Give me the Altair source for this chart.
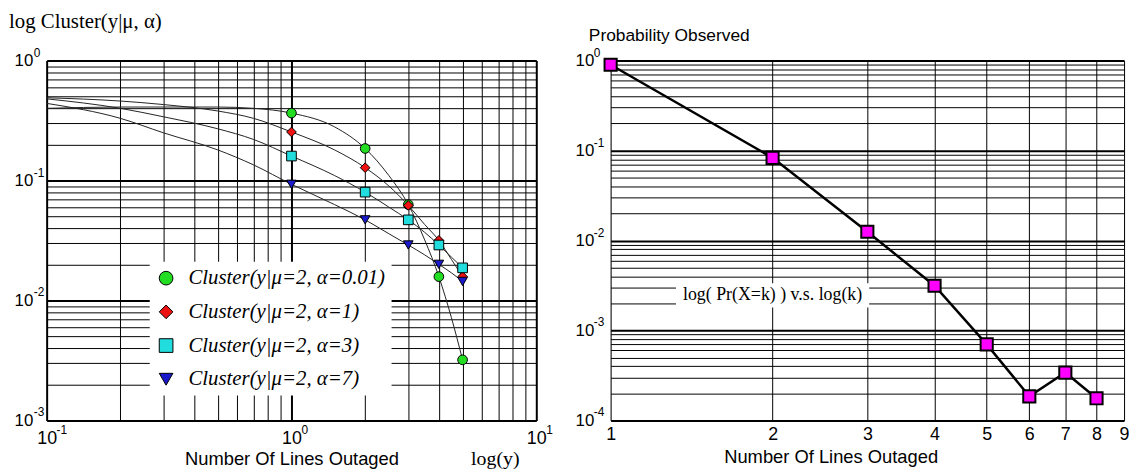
import altair as alt
import pandas as pd

# ---------------- data: left panel (markers at integer y) ----------------
k_left = [1, 2, 3, 4, 5]
series_names = [
    "Cluster(y|μ=2, α=0.01)",
    "Cluster(y|μ=2, α=1)",
    "Cluster(y|μ=2, α=3)",
    "Cluster(y|μ=2, α=7)",
]
p_a001 = [0.365, 0.185, 0.063, 0.0158, 0.0032]
p_a1 = [0.254, 0.128, 0.062, 0.0317, 0.0158]
p_a3 = [0.160, 0.080, 0.047, 0.029, 0.0187]
p_a7 = [0.093, 0.047, 0.029, 0.020, 0.0144]

# continuous model curves
curve_x = [0.1, 0.2, 0.3, 0.5, 0.7, 1, 1.5, 2, 2.5, 3, 3.5, 4, 4.5, 5]
c_a001 = [0.40, 0.41, 0.41, 0.41, 0.40, 0.365, 0.28, 0.185, 0.11, 0.063, 0.032, 0.0158, 0.0072, 0.0032]
c_a1 = [0.49, 0.46, 0.43, 0.38, 0.33, 0.254, 0.18, 0.128, 0.09, 0.062, 0.043, 0.0317, 0.022, 0.0158]
c_a3 = [0.48, 0.40, 0.34, 0.27, 0.22, 0.160, 0.11, 0.080, 0.060, 0.047, 0.037, 0.029, 0.023, 0.0187]
c_a7 = [0.44, 0.33, 0.25, 0.18, 0.135, 0.093, 0.063, 0.047, 0.036, 0.029, 0.024, 0.020, 0.017, 0.0144]

# ---------------- data: right panel ----------------
k_right = [1, 2, 3, 4, 5, 6, 7, 8]
p_observed = [0.9, 0.083, 0.0125, 0.00314, 0.0007, 0.000185, 0.00034, 0.000176]

# decade tick labels (base "10" + exponent)
left_x_decades = [0.1, 1, 10]
left_x_exps = ["-1", "0", "1"]
left_y_decades = [1, 0.1, 0.01, 0.001]
left_y_exps = ["0", "-1", "-2", "-3"]
right_y_decades = [1, 0.1, 0.01, 0.001, 0.0001]
right_y_exps = ["0", "-1", "-2", "-3", "-4"]

# ---------------- tables ----------------
marker_vals = [p_a001, p_a1, p_a3, p_a7]
curve_vals = [c_a001, c_a1, c_a3, c_a7]
left_pts = pd.DataFrame(
    [{"series": s, "x": x, "p": v} for s, vals in zip(series_names, marker_vals) for x, v in zip(k_left, vals)]
)
left_curves = pd.DataFrame(
    [{"series": s, "x": x, "p": v} for s, vals in zip(series_names, curve_vals) for x, v in zip(curve_x, vals)]
)
right_pts = pd.DataFrame({"k": k_right, "p": p_observed})

# ---------------- helpers ----------------
SANS = "Liberation Sans"
SERIF = "Liberation Serif"


def log_grid(lo, hi):
    vals = []
    for d in range(lo, hi):
        for m in range(1, 10):
            vals.append(round(m * 10.0 ** d, 10))
    vals.append(round(10.0 ** hi, 10))
    return vals


DEC_TEST = "abs(log(datum.value)/LN10 - round(log(datum.value)/LN10)) < 0.0001"
DEC_LABEL = f"({DEC_TEST}) ? '10' : ''"
grid_w = {"condition": {"test": DEC_TEST, "value": 2}, "value": 1}

common_axis = dict(
    grid=True, ticks=False, domain=False, gridColor="black", gridOpacity=1,
    labelFont=SANS, labelColor="black",
    labelOverlap=False, labelFlush=False, titleFont=SANS, titleFontSize=18.5,
    titleFontWeight="normal", titleColor="black",
)

# ---------------- left panel ----------------
LW, LH = 494, 363
xl = alt.Scale(type="log", domain=[0.1, 10], nice=False)
yl = alt.Scale(type="log", domain=[0.001, 1], nice=False)

x_axis_l = alt.Axis(values=log_grid(-1, 1), labelExpr=DEC_LABEL, labelFontSize=18, gridWidth=grid_w,
                    labelPadding=9, title="Number Of Lines Outaged", titlePadding=3, **common_axis)
y_axis_l = alt.Axis(values=log_grid(-3, 0), labelExpr=DEC_LABEL, labelFontSize=17, gridWidth=grid_w,
                    labelPadding=14, minExtent=38, maxExtent=38, title=None, **common_axis)

curves = alt.Chart(left_curves).mark_line(color="#222222", strokeWidth=1, interpolate="monotone").encode(
    x=alt.X("x:Q", scale=xl, axis=x_axis_l),
    y=alt.Y("p:Q", scale=yl, axis=y_axis_l),
    detail="series:N",
)

pts = alt.Chart(left_pts).mark_point(filled=True, stroke="black", strokeWidth=1, opacity=1, size=95).encode(
    x=alt.X("x:Q", scale=xl),
    y=alt.Y("p:Q", scale=yl),
    color=alt.Color("series:N", scale=alt.Scale(domain=series_names,
                                                range=["#22dd22", "#ee1111", "#22dddd", "#1a1acc"]),
                    legend=alt.Legend(orient="none", legendX=104, legendY=203, title=None,
                                      fillColor="white", padding=6, rowPadding=12,
                                      labelFont=SERIF, labelFontSize=21, labelFontStyle="italic",
                                      labelColor="black", labelOffset=12, labelLimit=400,
                                      symbolSize=190, symbolStrokeColor="black", symbolStrokeWidth=1,
                                      symbolOpacity=1)),
    shape=alt.Shape("series:N", scale=alt.Scale(domain=series_names,
                                                range=["circle", "diamond", "square", "triangle-down"])),
)

lx_exp = alt.Chart(pd.DataFrame({"v": left_x_decades, "e": left_x_exps})).mark_text(
    font=SANS, fontSize=12, color="black", align="left", baseline="middle", dx=10
).encode(x=alt.X("v:Q", scale=xl), y=alt.value(LH + 10), text="e:N")

ly_exp = alt.Chart(pd.DataFrame({"v": left_y_decades, "e": left_y_exps})).mark_text(
    font=SANS, fontSize=12, color="black", align="left", baseline="middle", dy=-8
).encode(x=alt.value(-13), y=alt.Y("v:Q", scale=yl), text="e:N")

logy_text = alt.Chart(pd.DataFrame({"t": ["log(y)"]})).mark_text(
    font=SERIF, fontSize=20, color="black", baseline="middle", align="center"
).encode(x=alt.datum(6.8, scale=xl), y=alt.value(LH + 39), text="t:N")

left = alt.layer(curves, pts, lx_exp, ly_exp, logy_text).properties(
    width=LW, height=LH,
    title=alt.TitleParams("log Cluster(y|μ, α)", anchor="start", frame="bounds", font=SERIF,
                          fontSize=21, fontWeight="normal", color="black", offset=15),
)

# ---------------- right panel ----------------
RW, RH = 518, 363
xr = alt.Scale(type="log", domain=[1, 9], nice=False)
yr = alt.Scale(type="log", domain=[0.0001, 1], nice=False)

x_axis_r = alt.Axis(values=list(range(1, 10)), labelExpr="format(datum.value, 'd')", labelPadding=5,
                    labelFontSize=18, gridWidth=1, title="Number Of Lines Outaged", titlePadding=4,
                    titleX=222, **common_axis)
y_axis_r = alt.Axis(values=log_grid(-4, 0), labelExpr=DEC_LABEL, labelFontSize=17, gridWidth=grid_w,
                    labelPadding=17, minExtent=38, maxExtent=38, title=None, **common_axis)

r_line = alt.Chart(right_pts).mark_line(color="black", strokeWidth=2.5).encode(
    x=alt.X("k:Q", scale=xr, axis=x_axis_r),
    y=alt.Y("p:Q", scale=yr, axis=y_axis_r),
)
r_pts = alt.Chart(right_pts).mark_point(shape="square", filled=True, fill="#ff00ff", stroke="black",
                                        strokeWidth=2, opacity=1, size=150).encode(
    x=alt.X("k:Q", scale=xr), y=alt.Y("p:Q", scale=yr)
)
ry_exp = alt.Chart(pd.DataFrame({"v": right_y_decades, "e": right_y_exps})).mark_text(
    font=SANS, fontSize=12, color="black", align="left", baseline="middle", dy=-8
).encode(x=alt.value(-17), y=alt.Y("v:Q", scale=yr), text="e:N")

note = pd.DataFrame({"k": [2], "p": [0.00245], "t": ["log( Pr(X=k) )  v.s. log(k)"]})
note_bg = alt.Chart(note).mark_point(
    shape="M-1,-0.125L1,-0.125L1,0.125L-1,0.125Z", size=38000, filled=True, fill="white", opacity=1,
    strokeWidth=0
).encode(x=alt.X("k:Q", scale=xr), y=alt.Y("p:Q", scale=yr))
note_txt = alt.Chart(note).mark_text(font=SERIF, fontSize=18, color="black").encode(
    x=alt.X("k:Q", scale=xr), y=alt.Y("p:Q", scale=yr), text="t:N"
)

right = alt.layer(r_line, r_pts, ry_exp, note_bg, note_txt).properties(
    width=RW, height=RH,
    title=alt.TitleParams("Probability Observed", anchor="start", frame="bounds", font=SANS,
                          fontSize=17.5, fontWeight="normal", color="black", offset=2, dx=16),
)

chart = alt.hconcat(left, right, spacing=18).resolve_scale(
    x="independent", y="independent", color="independent", shape="independent"
).resolve_legend(color="independent", shape="independent").properties(
    padding={"left": 0, "top": 0, "right": 0, "bottom": 0}
).configure_view(stroke="black", strokeWidth=2).configure(background="white")

chart.save("out.html", embed_options={"renderer": "svg", "actions": False})
